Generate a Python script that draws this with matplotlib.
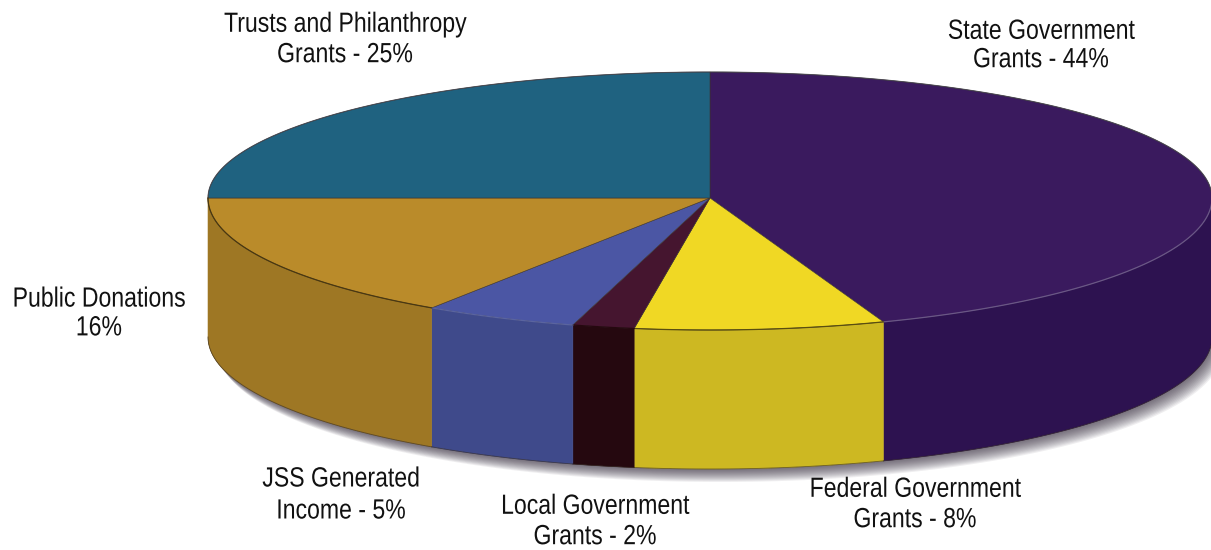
import numpy as np
import matplotlib
matplotlib.use("Agg")
import matplotlib.pyplot as plt
from matplotlib.patheffects import AbstractPathEffect
from matplotlib.transforms import Affine2D

# income sources, clockwise from twelve o'clock
labels = ["State Government\nGrants - 44%", "Federal Government\nGrants - 8%",
          "Local Government\nGrants - 2%", "JSS Generated\nIncome - 5%",
          "Public Donations\n16%", "Trusts and Philanthropy\nGrants - 25%"]
values = [44, 8, 2, 5, 16, 25]

top_colors = ["#3A1A5E", "#F0D824", "#45152F", "#4B56A4", "#BA8B2A", "#1F6280"]
side_colors = ["#2D1250", "#CDB822", "#25080F", "#3F4A8B", "#9E7724", "#1F6280"]
rim_colors = ["#6A5688", "#5A4E10", "#25080F", "#5A64A0", "#4A3810", "#1F6280"]

W, H = 1211, 550
cx, cy = 710, 198
rx = 502
ry_back, ry_front = 126, 132
depth = 139


def project(deg):
    # point on the rim, the near half is a bit deeper for perspective
    deg = np.asarray(deg, dtype=float)
    s = np.sin(np.radians(deg))
    a = np.radians(deg + 1.5 * np.minimum(s, 0))
    ry = np.where(s < 0, ry_front, ry_back)
    return cx + rx * np.cos(a), cy - ry * np.sin(a)


class Narrow(AbstractPathEffect):
    # squeezes a line of text sideways around its own centre, shift is in pixels
    def __init__(self, factor, shift=0):
        super().__init__()
        self.factor = factor
        self.shift = shift

    def draw_path(self, renderer, gc, tpath, affine, rgbFace=None):
        w = tpath.get_extents().x1
        squeeze = Affine2D().scale(self.factor, 1).translate((1 - self.factor) * w / 2, 0)
        renderer.draw_path(gc, tpath, squeeze + affine + Affine2D().translate(self.shift, 0), rgbFace)


fig = plt.figure(figsize=(W / 100, H / 100), dpi=100)
ax = fig.add_axes([0, 0, 1, 1])
ax.set_xlim(0, W)
ax.set_ylim(H, 0)
ax.axis("off")

ends = 90 - np.cumsum(values) * 3.6
starts = np.r_[90, ends[:-1]]

# soft shadow under the front edge, stronger toward the right
front = np.linspace(0, -180, 300)
fx, fy = project(front)
for d in np.linspace(13, 1, 13):
    ax.fill(np.r_[fx + d * 0.8, fx[::-1]], np.r_[fy + depth + d, fy[::-1] + depth],
            color="#3a3040", alpha=0.08, lw=0, zorder=1)

# top face
for a1, a2, col in zip(starts, ends, top_colors):
    x, y = project(np.linspace(a1, a2, 200))
    ax.fill(np.r_[cx, x], np.r_[cy, y], color=col, ec="#3a3230", lw=0.4, zorder=5)

# back edge of the top face
bx, by = project(np.linspace(0, 180, 300))
ax.plot(bx, by, color="#40404a", lw=0.8, alpha=0.7, zorder=6)

# front wall, slice by slice
for a1, a2, col, rim in zip(starts, ends, side_colors, rim_colors):
    hi = min(a1, 0)
    lo = max(a2, -180)
    if hi <= lo:
        continue
    x, y = project(np.linspace(hi, lo, 120))
    ax.fill(np.r_[x, x[::-1]], np.r_[y, y[::-1] + depth], color=col, lw=0.4, ec=col, zorder=3)
    ax.plot(x, y, color=rim, lw=0.9, zorder=6)
    ax.plot(x, y + depth, color="#2a2018", lw=0.6, alpha=0.6, zorder=4)

# label centres in pixels; the left label sits further in and is drawn back by its shift
label_x = [1041, 915, 595, 341, 115, 345]
label_y = [46, 505, 522, 495.5, 314, 40]
label_gap = [1.12, 1.22, 1.22, 1.3, 1.14, 1.22]
label_shift = [0, 0, 0, 0, -16, 0]
for txt, px, py, gap, shift in zip(labels, label_x, label_y, label_gap, label_shift):
    t = ax.text(px, py, txt, ha="center", va="center", color="#111111", fontsize=20,
                linespacing=gap, family="Liberation Sans", zorder=8)
    t.set_path_effects([Narrow(0.83, shift)])

fig.savefig("out.png", dpi=100)
